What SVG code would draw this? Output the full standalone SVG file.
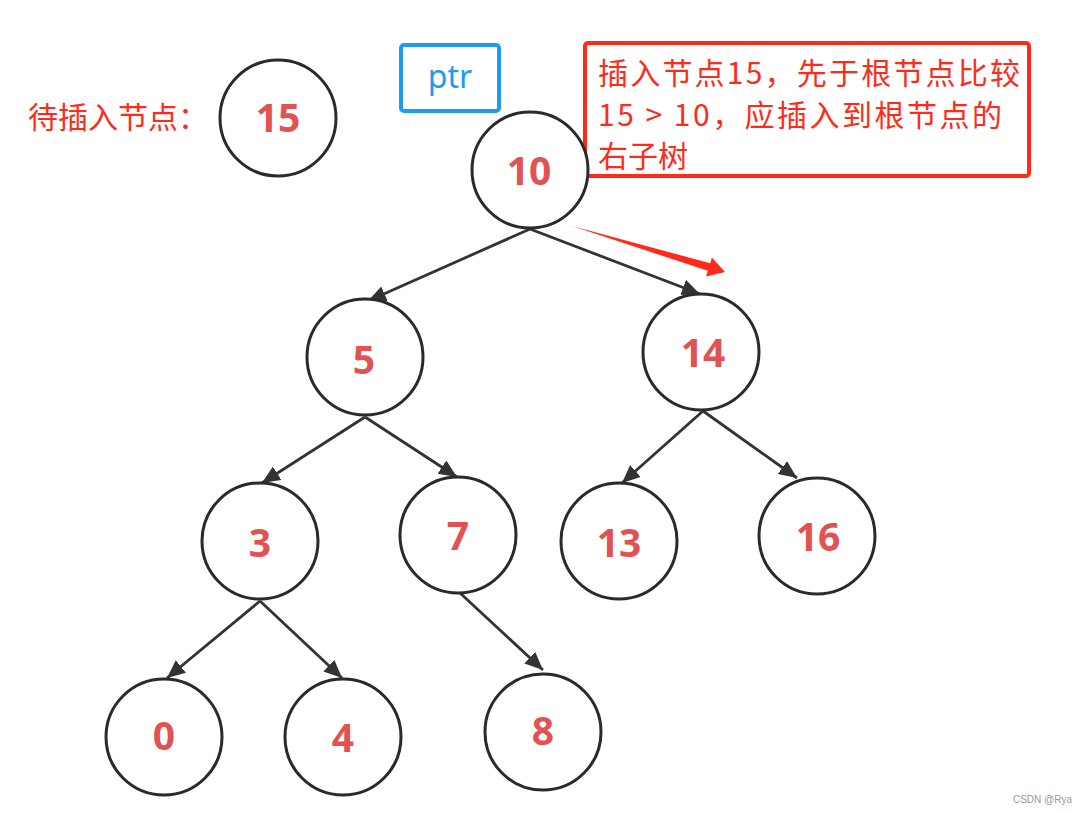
<svg xmlns="http://www.w3.org/2000/svg" width="1087" height="813" viewBox="0 0 1087 813">
<style>
.node{fill:#fff;stroke:#2a2a2a;stroke-width:3}
.lbl{font-family:"Noto Sans","Open Sans","Liberation Sans",sans-serif;font-weight:bold;font-size:39px;fill:#E25252;text-anchor:middle}
.edge{fill:none;stroke:#333;stroke-width:2.8}
.note{font-family:"Noto Sans CJK SC","Noto Sans",sans-serif;font-size:30px;fill:#FF2A1A}
</style>
<defs>
<marker id="ah" markerUnits="userSpaceOnUse" markerWidth="20" markerHeight="18" refX="18" refY="8" orient="auto">
<path d="M0,0 L18,8 L0,16 Z" fill="#333"/>
</marker>
</defs>
<rect width="1087" height="813" fill="#fff"/>
<g id="connectors">
<path class="edge" marker-end="url(#ah)" d="M530,229 L368,301"/>
<path class="edge" marker-end="url(#ah)" d="M530,229 L700,294"/>
<path class="edge" marker-end="url(#ah)" d="M365,417 L262,483"/>
<path class="edge" marker-end="url(#ah)" d="M365,417 L457,477"/>
<path class="edge" marker-end="url(#ah)" d="M703,411 L622,483"/>
<path class="edge" marker-end="url(#ah)" d="M703,411 L797,478"/>
<path class="edge" marker-end="url(#ah)" d="M260,601 L167,678"/>
<path class="edge" marker-end="url(#ah)" d="M260,601 L342,678"/>
<path class="edge" marker-end="url(#ah)" d="M460,593 L543,670"/>
</g>
<g id="red-arrow">
<polygon points="572,226 710.2,263.2 711.9,257.4 725,272 706.1,276.6 707.8,270.8" fill="#FF2A1A"/>
</g>
<g id="pending-label">
<text class="note" x="28" y="128">待插入节点：</text>
</g>
<g id="node-15"><ellipse class="node" cx="278" cy="118" rx="58" ry="58"/><text class="lbl" x="278" y="132">15</text></g>
<g id="ptr"><rect x="401" y="45" width="98" height="66" rx="3" fill="#fff" stroke="#1E9BF0" stroke-width="4"/><text x="450" y="88" text-anchor="middle" font-family="Noto Sans,Open Sans,sans-serif" font-size="32" fill="#1E9BF0">ptr</text></g>
<g id="note">
<rect x="585" y="43" width="444" height="133" rx="3" fill="#fff" stroke="#FF2A1A" stroke-width="4"/>
<text class="note" x="598" y="84" textLength="422" lengthAdjust="spacing">插入节点15，先于根节点比较</text>
<text class="note" x="598" y="126" textLength="404" lengthAdjust="spacing">15 &gt; 10，应插入到根节点的</text>
<text class="note" x="598" y="167">右子树</text>
</g>
<g id="node-10"><ellipse class="node" cx="530" cy="170" rx="58" ry="58"/><text class="lbl" x="529" y="185">10</text></g>
<g id="node-5"><ellipse class="node" cx="365" cy="357" rx="58" ry="58"/><text class="lbl" x="364" y="374">5</text></g>
<g id="node-14"><ellipse class="node" cx="701" cy="352" rx="58" ry="58"/><text class="lbl" x="703" y="367">14</text></g>
<g id="node-3"><ellipse class="node" cx="260" cy="541" rx="58" ry="58"/><text class="lbl" x="260" y="557">3</text></g>
<g id="node-7"><ellipse class="node" cx="458" cy="535" rx="58" ry="58"/><text class="lbl" x="458" y="550">7</text></g>
<g id="node-13"><ellipse class="node" cx="619" cy="541" rx="58" ry="58"/><text class="lbl" x="619" y="557">13</text></g>
<g id="node-16"><ellipse class="node" cx="817" cy="536" rx="58" ry="58"/><text class="lbl" x="818" y="551">16</text></g>
<g id="node-0"><ellipse class="node" cx="164" cy="737" rx="58" ry="58"/><text class="lbl" x="164" y="750">0</text></g>
<g id="node-4"><ellipse class="node" cx="343" cy="737" rx="58" ry="58"/><text class="lbl" x="343" y="752">4</text></g>
<g id="node-8"><ellipse class="node" cx="543" cy="732" rx="58" ry="58"/><text class="lbl" x="543" y="745">8</text></g>
<text x="1072" y="803" text-anchor="end" font-family="Liberation Sans,sans-serif" font-size="10" fill="#999">CSDN @Rya</text>
</svg>
